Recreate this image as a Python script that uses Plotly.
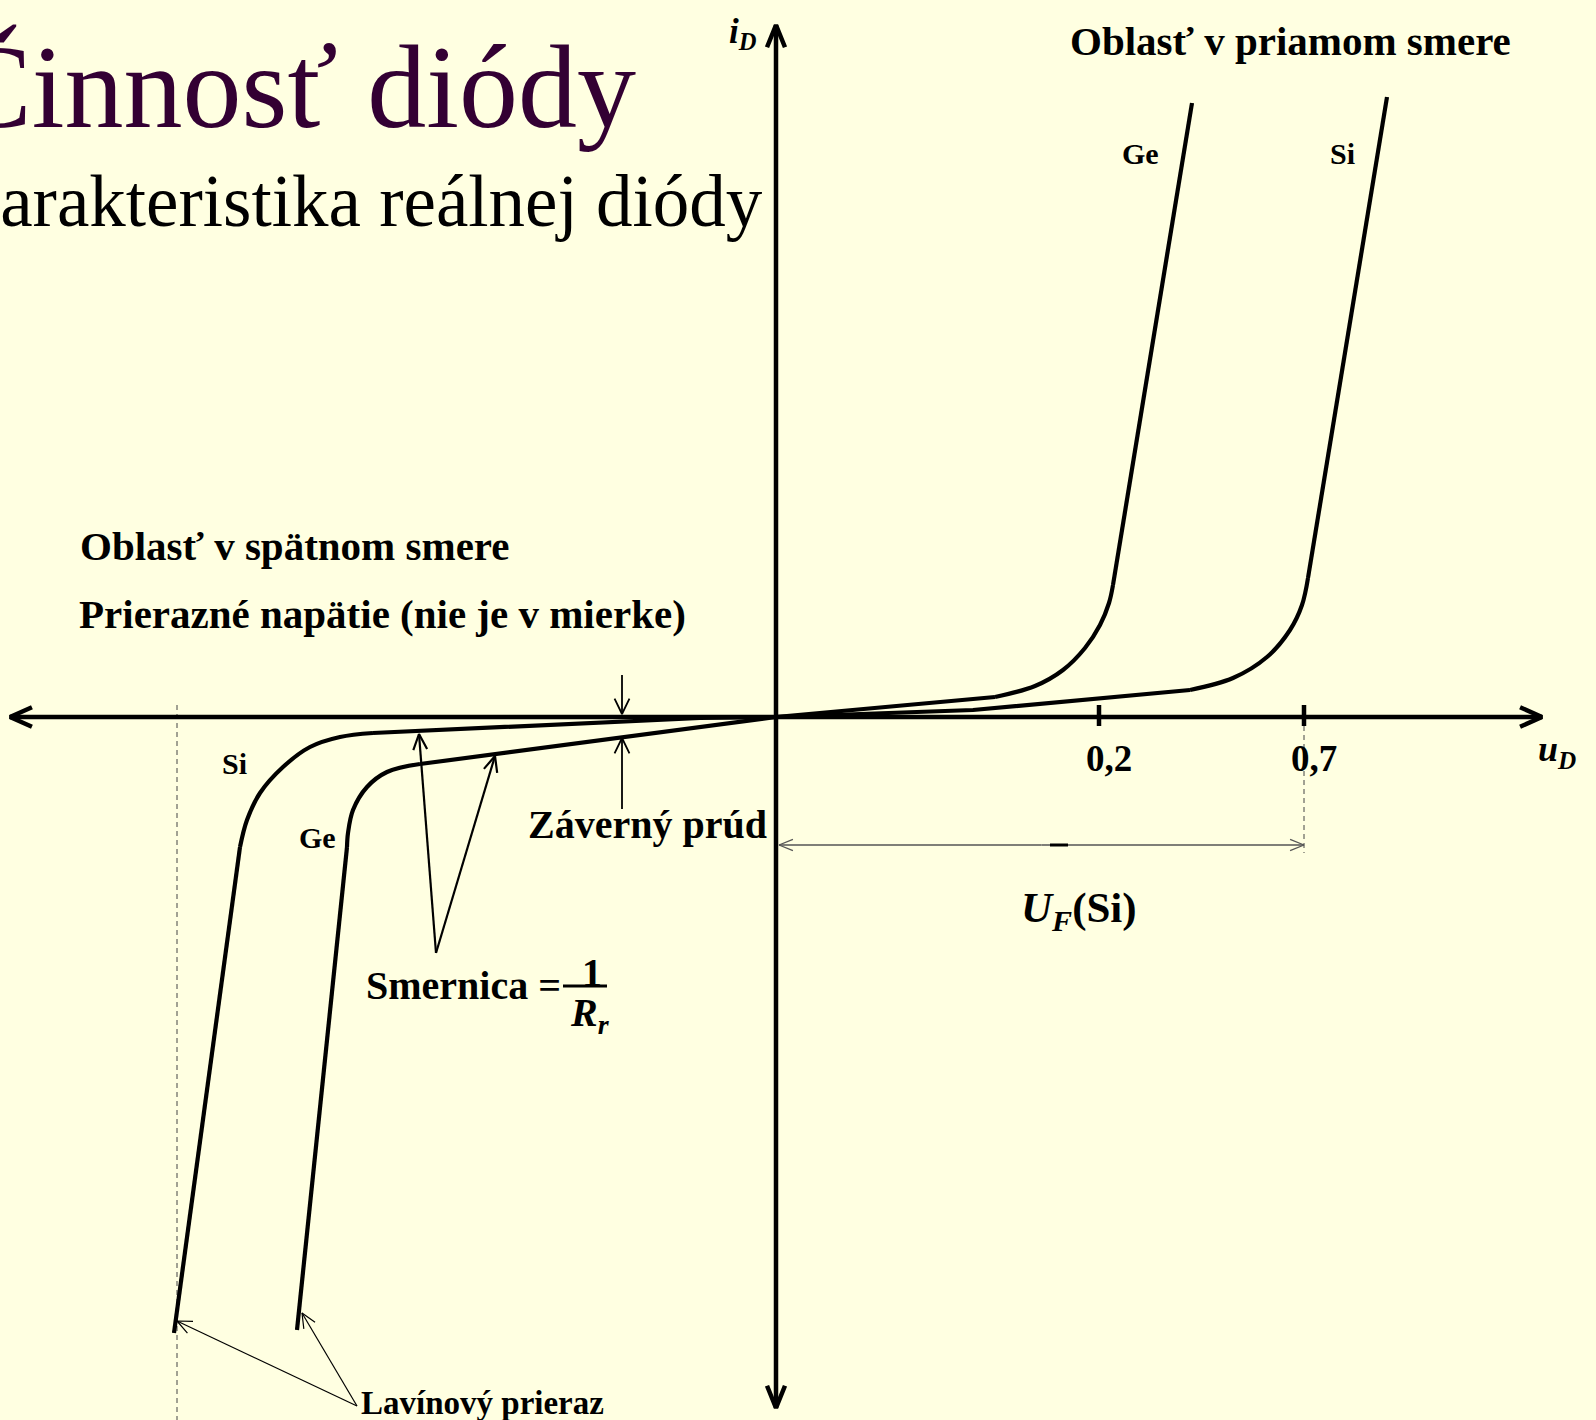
import math
import plotly.graph_objects as go

# Schematic I-V characteristic of a real diode.
# Units are drawing units (one unit = one pixel), origin where u_D and i_D cross.
X_RANGE = [-776, 820]
Y_RANGE = [-703, 717]

# Forward branch, germanium: leakage slope, knee (indices 1..7), steep rise
GE_FWD_X = [0, 219, 259, 287, 309, 324, 333, 337, 416]
GE_FWD_Y = [0, 20, 31, 47, 69, 92, 114, 132, 614]
GE_FWD_KNEE = (1, 7)

# Forward branch, silicon
SI_FWD_X = [0, 197, 414, 457, 491, 514, 526, 532, 611]
SI_FWD_Y = [0, 7, 27, 39, 60, 87, 112, 139, 620]
SI_FWD_KNEE = (2, 7)

# Reverse branch, silicon: small leakage, avalanche knee, breakdown line
SI_REV_X = [0, -76, -403, -436, -466, -493, -516, -529, -536, -602]
SI_REV_Y = [0, -1, -16, -20, -30, -50, -76, -103, -130, -616]
SI_REV_KNEE = (2, 8)

# Reverse branch, germanium
GE_REV_X = [0, -356, -389, -409, -423, -428, -429, -479]
GE_REV_Y = [0, -47, -55, -70, -93, -116, -130, -613]
GE_REV_KNEE = (1, 6)

# u_D axis ticks
TICK_POS = [323, 528]
TICK_TEXT = ["0,2", "0,7"]

# Breakdown voltage marker (dashed) and forward voltage U_F(Si)
BREAKDOWN_X = -599
UF_LEVEL = -128
UF_MARK = [274, 292]

BG = "#FFFFE1"
INK = "black"
SERIF = "Liberation Serif"

fig = go.Figure()


def add_line(xs, ys, width, color=INK, shape="linear", dash="solid"):
    fig.add_trace(go.Scatter(
        x=list(xs), y=list(ys), mode="lines",
        line=dict(color=color, width=width, shape=shape, dash=dash),
        hoverinfo="skip", showlegend=False,
    ))


def add_chevron(tail, tip, length, half_angle, width, color=INK):
    """Open arrow head (two strokes) at `tip`, pointing away from `tail`."""
    dx, dy = tip[0] - tail[0], tip[1] - tail[1]
    n = math.hypot(dx, dy)
    ux, uy = dx / n, dy / n
    xs, ys = [], []
    for s in (1, -1):
        a = math.radians(half_angle) * s
        rx = ux * math.cos(a) - uy * math.sin(a)
        ry = ux * math.sin(a) + uy * math.cos(a)
        xs.append(tip[0] - length * rx)
        ys.append(tip[1] - length * ry)
    add_line([xs[0], tip[0], xs[1]], [ys[0], tip[1], ys[1]], width, color)


def add_arrow(tail, tip, width, head_len, head_angle, color=INK):
    add_line([tail[0], tip[0]], [tail[1], tip[1]], width, color)
    add_chevron(tail, tip, head_len, head_angle, width, color)


def add_curve(xs, ys, knee, width=4.2):
    k0, k1 = knee
    add_line(xs[:k0 + 1], ys[:k0 + 1], width)
    add_line(xs[k0:k1 + 1], ys[k0:k1 + 1], width, shape="spline")
    add_line(xs[k1:], ys[k1:], width)


# Dashed helper lines
add_line([BREAKDOWN_X, BREAKDOWN_X], [12, Y_RANGE[0]], 1, "#444444", dash="5px,4px")
add_line([TICK_POS[1], TICK_POS[1]], [0, UF_LEVEL - 8], 1, "#444444", dash="5px,4px")

# Axes with open arrow heads
add_arrow((0, 0), (766, 0), 4.5, 24, 24)
add_arrow((0, 0), (-766, 0), 4.5, 24, 24)
add_arrow((0, 0), (0, 692), 4.5, 24, 22)
add_arrow((0, 0), (0, -691), 4.5, 24, 22)

# Ticks on u_D
for t in TICK_POS:
    add_line([t, t], [12, -9], 4.5)

# Characteristics
add_curve(GE_FWD_X, GE_FWD_Y, GE_FWD_KNEE)
add_curve(SI_FWD_X, SI_FWD_Y, SI_FWD_KNEE)
add_curve(SI_REV_X, SI_REV_Y, SI_REV_KNEE)
add_curve(GE_REV_X, GE_REV_Y, GE_REV_KNEE)

# Reverse (leakage) current markers
add_arrow((-154, 42), (-154, 3), 1.8, 17, 26)
add_arrow((-154, -92), (-154, -21), 1.8, 17, 26)

# Slope 1/R_r pointers
add_arrow((-340, -236), (-357, -17), 2.2, 17, 24)
add_arrow((-340, -236), (-281, -39), 2.2, 17, 24)

# Avalanche breakdown pointers
add_arrow((-419, -689), (BREAKDOWN_X, -604), 1.2, 16, 24)
add_arrow((-419, -689), (-474, -596), 1.2, 16, 24)

# Forward voltage dimension line
add_arrow(((TICK_POS[1] + 3) / 2, UF_LEVEL), (3, UF_LEVEL), 1.3, 15, 22, "#555555")
add_arrow(((TICK_POS[1] + 3) / 2, UF_LEVEL), (TICK_POS[1], UF_LEVEL), 1.3, 15, 22, "#555555")
add_line(UF_MARK, [UF_LEVEL, UF_LEVEL], 3)

# Fraction bar of 1/R_r
add_line([-213, -169], [-269, -269], 3.2)

annotations = []


def label(x, y, text, size, color=INK, bold=True, italic=False,
          xanchor="center", yanchor="middle", xshift=0):
    annotations.append(dict(
        x=x, y=y, xref="x", yref="y", text=text, showarrow=False,
        xanchor=xanchor, yanchor=yanchor, xshift=xshift,
        font=dict(family=SERIF, size=size, color=color,
                  weight="bold" if bold else "normal",
                  style="italic" if italic else "normal"),
    ))


# Slide headings
label(-138, 630, "Činnosť diódy", 118, color="#330033", bold=False, xanchor="right")
label(-11, 516, "Charakteristika reálnej diódy", 73, bold=False, xanchor="right")

# Axis names
label(-33, 684, "<i>i</i><sub><i>D</i></sub>", 35)
label(781, -34, "<i>u</i><sub><i>D</i></sub>", 36)

# Tick labels
for t, s in zip(TICK_POS, TICK_TEXT):
    label(t, -41, s, 37, xshift=10)

# Region titles
label(514, 676, "Oblasť v priamom smere", 41)
label(-482, 171, "Oblasť v spätnom smere", 41)
label(-394, 103, "Prierazné napätie (nie je v mierke)", 41)

# Curve names
label(364, 564, "Ge", 30)
label(566, 564, "Si", 30)
label(-542, -46, "Si", 30)
label(-459, -120, "Ge", 30)

# Other callouts
label(-129, -107, "Záverný prúd", 40)
label(303, -194, "<i>U</i><sub><i>F</i></sub>(Si)", 43)
label(-313, -268, "Smernica =", 40)
label(-184, -255, "1", 40)
label(-186, -298, "<i>R</i><sub><i>r</i></sub>", 40)
label(-294, -686, "Lavínový prieraz", 33)

fig.update_layout(
    width=1596, height=1420,
    margin=dict(l=0, r=0, t=0, b=0),
    paper_bgcolor=BG, plot_bgcolor=BG,
    xaxis=dict(range=X_RANGE, visible=False, fixedrange=True),
    yaxis=dict(range=Y_RANGE, visible=False, fixedrange=True),
    annotations=annotations,
    showlegend=False,
    hovermode=False,
)

fig.write_html("out.html")
